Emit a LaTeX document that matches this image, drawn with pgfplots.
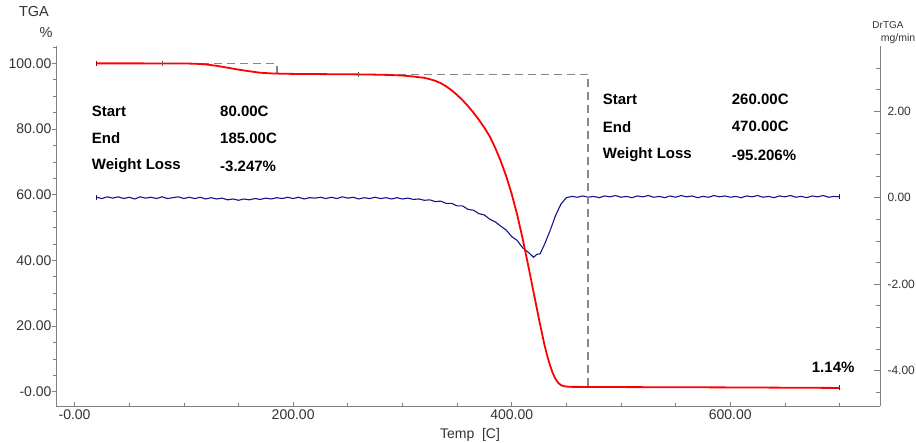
\documentclass[border=0pt]{standalone}
\usepackage{pgfplots}
\pgfplotsset{compat=1.18}
\usepackage{fontspec}
\setmainfont{Liberation Sans}
\definecolor{tgared}{RGB}{255,0,0}
\definecolor{dtgblue}{RGB}{20,20,140}
\definecolor{framegray}{RGB}{128,128,128}
\definecolor{dashgray}{RGB}{135,135,135}
\begin{document}
\begin{tikzpicture}[x=1pt,y=1pt]
\useasboundingbox (-56,-37) rectangle (860,406);
% right axis (DrTGA)
\begin{axis}[
  at={(0,0)}, anchor=south west,
  scale only axis, width=824pt, height=360pt,
  xmin=-17, xmax=737,
  ymin=-4.82, ymax=3.51,
  axis x line=none,
  axis y line*=right,
  axis line style={framegray, line width=0.8pt},
  ytick={-4,-2,0,2},
  yticklabels={-4.00,-2.00,0.00,2.00},
  minor ytick={-4.5,-3.5,-3,-2.5,-1.5,-1,-0.5,0.5,1,1.5,2.5,3},
  tick align=inside,
  major tick length=6pt, minor tick length=4pt,
  tick style={framegray, line width=0.7pt},
  yticklabel style={font=\fontsize{12}{14}\selectfont, text=black!80, xshift=4pt},
  clip=false,
]
\addplot[dtgblue, line width=1.1pt] coordinates {
(20,0.01) (25,-0.02) (30,0.02) (35,-0.01) (40,0.02) (45,-0.02) (50,0.01) (55,-0.03)
(60,0.02) (65,-0.01) (70,0.01) (75,-0.02) (80,0.02) (85,-0.02) (90,0.00) (95,0.02)
(100,-0.02) (105,0.01) (110,-0.02) (115,0.01) (120,-0.03) (125,0.00) (130,-0.03) (135,-0.01)
(140,-0.05) (145,-0.03) (150,-0.06) (155,-0.03) (160,-0.05) (165,-0.02) (170,-0.04) (175,-0.01)
(180,-0.03) (185,0.00) (190,-0.02) (195,0.01) (200,-0.02) (205,0.01) (210,-0.03) (215,0.00)
(220,-0.01) (225,0.01) (230,-0.02) (235,0.01) (240,-0.02) (245,0.02) (250,-0.01) (255,0.01)
(260,-0.03) (265,0.00) (270,-0.02) (275,0.01) (280,-0.02) (285,0.00) (290,-0.03) (295,0.00)
(300,-0.03) (305,-0.01) (310,-0.04) (315,-0.03) (320,-0.06) (325,-0.05) (330,-0.09) (335,-0.08)
(340,-0.13) (345,-0.13) (350,-0.19) (355,-0.19) (360,-0.27) (365,-0.29) (370,-0.37) (375,-0.40)
(380,-0.50) (385,-0.56) (390,-0.66) (395,-0.75) (400,-0.90) (405,-0.99) (410,-1.16) (415,-1.26)
(418,-1.33) (420,-1.38) (423,-1.31) (426,-1.30) (430,-1.08) (435,-0.77) (440,-0.42) (445,-0.15)
(450,0.00) (455,0.03) (460,0.01) (465,0.04) (470,0.01) (475,0.03) (480,0.00) (485,0.04)
(490,0.02) (495,0.05) (500,0.01) (505,0.03) (510,0.00) (515,0.04) (520,0.02) (525,0.05)
(530,0.01) (535,0.03) (540,0.00) (545,0.04) (550,0.01) (555,0.05) (560,0.02) (565,0.04)
(570,0.00) (575,0.03) (580,0.01) (585,0.05) (590,0.02) (595,0.04) (600,0.01) (605,0.03)
(610,0.00) (615,0.04) (620,0.02) (625,0.05) (630,0.01) (635,0.03) (640,0.00) (645,0.04)
(650,0.02) (655,0.05) (660,0.01) (665,0.03) (670,0.00) (675,0.04) (680,0.02) (685,0.05)
(690,0.01) (695,0.03) (700,0.02)
};
\addplot[only marks, mark=|, mark size=2.5pt, dtgblue, mark options={line width=0.8pt}] coordinates {(20,0.01) (700,0.02)};
\end{axis}
% left axis (TGA)
\begin{axis}[
  at={(0,0)}, anchor=south west,
  scale only axis, width=824pt, height=360pt,
  xmin=-17, xmax=737,
  ymin=-4.36, ymax=105.3,
  axis y line*=left,
  axis x line*=bottom,
  axis line style={framegray, line width=0.8pt},
  xtick={0,200,400,600},
  xticklabels={-0.00,200.00,400.00,600.00},
  minor xtick={-50,50,100,150,250,300,350,450,500,550,650,700},
  ytick={0,20,40,60,80,100},
  yticklabels={-0.00,20.00,40.00,60.00,80.00,100.00},
  minor ytick={5,10,15,25,30,35,45,50,55,65,70,75,85,90,95,105},
  xtick align=inside, ytick align=outside,
  major tick length=4pt, minor tick length=3pt,
  tick style={framegray, line width=0.7pt},
  yticklabel style={font=\fontsize{14}{16}\selectfont, text=black!80, xshift=3pt},
  xticklabel style={font=\fontsize{14}{16}\selectfont, text=black!80},
  clip=false,
]
% dashed step lines
\addplot[dashgray, line width=1.5pt, dash pattern=on 8pt off 5pt] coordinates {(80,100) (185,100) (185,96.8)};
\addplot[dashgray, line width=1.5pt, dash pattern=on 8pt off 5pt] coordinates {(260,96.6) (470,96.6) (470,1.5)};
\addplot[tgared, line width=1.8pt] coordinates {
(20,100.0) (60,100.0) (100,99.97) (110,99.9) (120,99.7) (130,99.25) (140,98.7) (150,98.1)
(160,97.6) (170,97.15) (180,96.95) (190,96.85) (200,96.8) (220,96.75) (240,96.7) (260,96.65)
(280,96.55) (290,96.45) (300,96.3) (310,96.0) (320,95.6) (325,95.2) (330,94.7) (335,94.0)
(340,93.0) (345,91.8) (350,90.4) (355,88.8) (360,87.0) (365,85.0) (370,82.8) (375,80.4)
(380,77.7) (385,74.2) (390,70.2) (395,65.6) (400,60.2) (405,53.9) (410,46.6) (415,38.6)
(420,30.3) (425,22.0) (430,14.2) (432.5,10.9) (435,8.1) (437.5,5.7) (440,3.9) (442.5,2.7)
(445,2.0) (447.5,1.7) (450,1.56) (455,1.47)
(500,1.4) (600,1.3) (700,1.14)
};
\addplot[only marks, mark=|, mark size=2.5pt, black!60, mark options={line width=0.8pt}] coordinates {(80,100) (260,96.65)};
\addplot[only marks, mark=|, mark size=2.5pt, tgared!70!black, mark options={line width=0.8pt}] coordinates {(20,100) (700,1.14)};
\end{axis}
% axis titles
\node[font=\fontsize{14.5}{16}\selectfont, text=black!80] at (-22,394) {TGA};
\node[font=\fontsize{14.5}{16}\selectfont, text=black!80] at (-10,373) {\%};
\node[font=\fontsize{10}{12}\selectfont, text=black!80] at (832,381) {DrTGA};
\node[font=\fontsize{10.5}{12}\selectfont, text=black!80] at (842,367) {mg/min};
\node[font=\fontsize{14}{16}\selectfont, text=black!80] at (414,-29) {Temp\ \ [C]};
% annotations
\begin{scope}[every node/.style={anchor=west, font=\bfseries\fontsize{15}{17}\selectfont, inner sep=0pt}]
\node at (35.7,295) {Start};
\node at (35.7,268) {End};
\node at (35.7,240) {Weight Loss};
\node at (164,295) {80.00C};
\node at (164,268) {185.00C};
\node at (164,240) {-3.247\%};
\node at (546.7,306.7) {Start};
\node at (546.7,279.3) {End};
\node at (546.7,251) {Weight Loss};
\node at (675.7,306.7) {260.00C};
\node at (675.7,279.3) {470.00C};
\node at (675.7,251) {-95.206\%};
\node at (755.7,38.7) {1.14\%};
\end{scope}
\end{tikzpicture}
\end{document}
